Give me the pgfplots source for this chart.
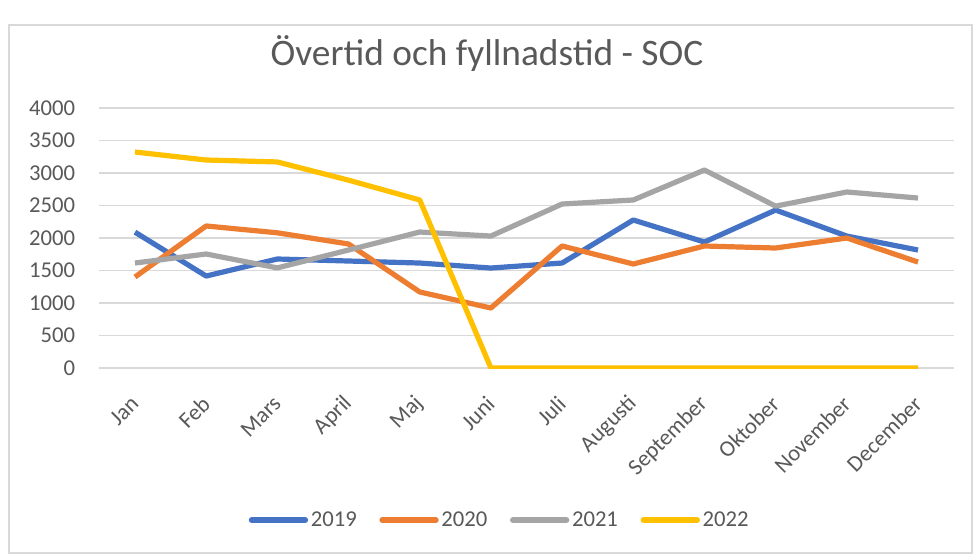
\documentclass[border=0pt]{standalone}
\usepackage{pgfplots}
\pgfplotsset{compat=1.18}
\usepackage{fontspec}
\setmainfont{Carlito}
\definecolor{c19}{HTML}{4472C4}
\definecolor{c20}{HTML}{ED7D31}
\definecolor{c21}{HTML}{A5A5A5}
\definecolor{c22}{HTML}{FFC000}
\definecolor{txt}{HTML}{595959}
\definecolor{grd}{HTML}{D9D9D9}
\begin{document}
\begin{tikzpicture}
\useasboundingbox (0,0) rectangle (730.5pt,418.5pt);
\fill[white] (0,0) rectangle (730.5pt,418.5pt);
\draw[grd, line width=1pt] (6.75pt,3.75pt) rectangle (729pt,399.75pt);
\node[text=txt, font=\fontsize{28}{33}\selectfont] at (365.25pt,378.5pt) {Övertid och fyllnadstid - SOC};
\begin{axis}[
  at={(74.55pt,142.5pt)}, anchor=south west,
  scale only axis, width=640.65pt, height=195pt,
  xmin=-0.5, xmax=11.5, ymin=0, ymax=4000,
  ytick={0,500,...,4000},
  xtick={0,...,11},
  xticklabels={Jan,Feb,Mars,April,Maj,Juni,Juli,Augusti,September,Oktober,November,December},
  axis line style={draw=none},
  major tick length=0pt,
  ymajorgrids, major grid style={grd, line width=1.1pt},
  /pgf/number format/assume math mode=true,
  /pgf/number format/1000 sep={},
  tick label style={text=txt, font=\fontsize{17}{20}\selectfont},
  yticklabel style={anchor=east, inner sep=0pt, xshift=-18pt},
  xticklabel style={rotate=45, anchor=east, inner sep=0pt, yshift=-17pt, xshift=-17pt},
  legend columns=4,
  legend style={at={(0.469,-0.585)}, anchor=center, draw=none, fill=none,
    font=\fontsize{17}{20}\selectfont, text=txt,
    /tikz/every even column/.append style={column sep=15pt}},
  every axis plot/.append style={line width=3.9pt, line join=round},
  legend image code/.code={\draw[#1, line width=4.5pt, line cap=round] (0pt,0pt) -- (40pt,0pt);},
]
\addplot[c19] coordinates {(0,2090) (1,1415) (2,1677) (3,1646) (4,1615) (5,1538) (6,1615) (7,2277) (8,1938) (9,2430) (10,2030) (11,1815)};
\addplot[c20] coordinates {(0,1400) (1,2185) (2,2080) (3,1908) (4,1170) (5,923) (6,1877) (7,1600) (8,1877) (9,1846) (10,2000) (11,1630)};
\addplot[c21] coordinates {(0,1615) (1,1754) (2,1540) (3,1815) (4,2092) (5,2030) (6,2523) (7,2585) (8,3046) (9,2490) (10,2708) (11,2615)};
\addplot[c22] coordinates {(0,3323) (1,3200) (2,3170) (3,2890) (4,2585) (5,0) (6,0) (7,0) (8,0) (9,0) (10,0) (11,0)};
\legend{2019,2020,2021,2022}
\end{axis}
\end{tikzpicture}
\end{document}
